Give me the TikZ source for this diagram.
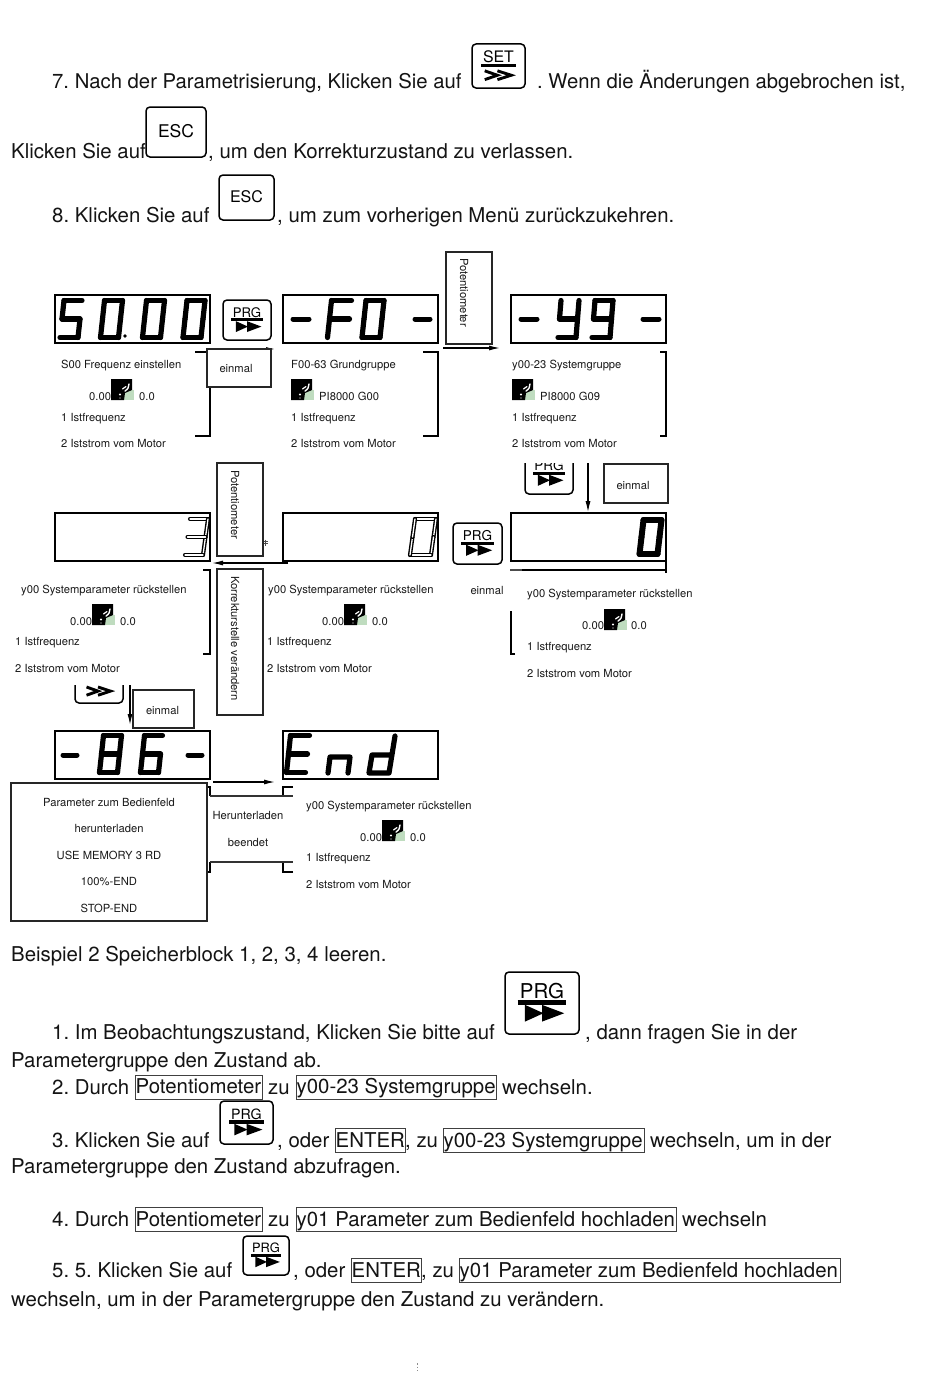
\documentclass[tikz,border=0pt]{standalone}
\usepackage{fontspec}
\setmainfont{TeX Gyre Heros}
\usetikzlibrary{arrows.meta}
\frenchspacing
\tikzset{
  bodytxt/.style={anchor=base west,inner sep=0pt,font=\fontsize{20.4}{24}\selectfont\frenchspacing,text=black!92},
  bodytight/.style={bodytxt,font=\fontsize{20.3}{24}\selectfont\frenchspacing},
  small/.style={anchor=base west,inner sep=0pt,font=\fontsize{11.2}{14}\selectfont\frenchspacing,text=black!90},
  boxed/.style={draw=black!75,line width=.8pt,inner sep=0pt,fill=none},
  panelbox/.style={draw=black!85,fill=white,line width=1.1pt,inner sep=0pt},
  dispbox/.style={draw=black,line width=1.6pt,inner sep=0pt},
  brk/.style={draw=black,line width=1.4pt},
  arr/.style={draw=black,line width=1.2pt,-{Latex[length=11pt,width=5pt]}},
  seg/.style={line width=5.2pt,line cap=round,line join=round,draw=black},
  fatseg/.style={line width=6pt,line cap=round,line join=round,draw=black},
  oseg/.style={line width=1.4pt,line cap=round,draw=black,double=white,double distance=1.3pt},
  btn/.style={draw=black,line width=1.5pt,rounded corners=4pt,fill=white,inner sep=0pt}
}
% seven segment digit: style, left, top, width, height, slant, list of segments
\newcommand\sevdig[7]{%
  \foreach \sg in {#7}{%
    \ifnum\sg=1 \draw[#1] ({#2+#6},#3) -- ({#2+#4+#6},#3);\fi
    \ifnum\sg=2 \draw[#1] ({#2+#4+#6},#3) -- ({#2+#4+#6/2},{#3+#5/2});\fi
    \ifnum\sg=3 \draw[#1] ({#2+#4+#6/2},{#3+#5/2}) -- ({#2+#4},{#3+#5});\fi
    \ifnum\sg=4 \draw[#1] (#2,{#3+#5}) -- ({#2+#4},{#3+#5});\fi
    \ifnum\sg=5 \draw[#1] (#2,{#3+#5}) -- ({#2+#6/2},{#3+#5/2});\fi
    \ifnum\sg=6 \draw[#1] ({#2+#6/2},{#3+#5/2}) -- ({#2+#6},#3);\fi
    \ifnum\sg=7 \draw[#1] ({#2+#6/2},{#3+#5/2}) -- ({#2+#4+#6/2},{#3+#5/2});\fi
  }%
}
\newcommand\dashseg[3]{\draw[line width=5pt,line cap=round] (#1,#3) -- (#2,#3);}
% icon with black square and green corner
\newcommand\mysticon[2]{%
  \fill[green!45!black!25!white] ({#1+13},{#2+11}) rectangle ({#1+23},{#2+21});
  \fill[black] (#1,#2) -- ({#1+21},#2) -- ({#1+21},{#2+11}) -- ({#1+14},{#2+14}) -- ({#1+13},{#2+21}) -- (#1,{#2+21}) -- cycle;
  \fill[white] ({#1+9},{#2+15.5}) circle (1.1pt);
  \fill[white] ({#1+9},{#2+19}) circle (.7pt);
  \draw[white,line width=1.2pt,line cap=round] ({#1+11.5},{#2+10}) -- ({#1+15},{#2+7.5});
  \draw[white,line width=1.4pt,line cap=round] ({#1+14},{#2+12}) .. controls ({#1+17},{#2+10}) and ({#1+18},{#2+8}) .. ({#1+18},{#2+5});
}
% panel rows
\newcommand\rows[4]{%
  \node[small] (#1a) at (#2,#3) {1 Istfrequenz};
  \node[small] (#1b) at (#2,#4) {2 Iststrom vom Motor};
}
% key with PRG and solid arrowheads
\newcommand\keyprg[6]{% name x1 y1 x2 y2 label
  \pgfmathsetmacro\kw{#4-#2}\pgfmathsetmacro\kh{#5-#3}
  \pgfmathsetmacro\kfs{0.33*\kh}
  \node[btn,minimum width=\kw pt,minimum height=\kh pt] (#1) at ({(#2+#4)/2},{(#3+#5)/2}) {};
  \node[inner sep=0pt,font=\fontsize{\kfs}{\kfs}\selectfont] (#1t) at ({(#2+#4)/2},{#3+.31*\kh}) {#6};
  \draw[line width={.075*\kh pt}] ({#2+.17*\kw},{#3+.49*\kh}) -- ({#2+.83*\kw},{#3+.49*\kh});
  \fill ({#2+.27*\kw},{#3+.53*\kh}) -- ({#2+.52*\kw},{#3+.665*\kh}) -- ({#2+.27*\kw},{#3+.8*\kh}) -- cycle;
  \fill ({#2+.5*\kw},{#3+.53*\kh}) -- ({#2+.8*\kw},{#3+.665*\kh}) -- ({#2+.5*\kw},{#3+.8*\kh}) -- cycle;
}
% chevrons
\newcommand\chevrons[4]{%
  \pgfmathsetmacro\kw{#3-#1}\pgfmathsetmacro\kh{#4-#2}
  \draw[line width=2.9pt,miter limit=4] ({#1+.24*\kw},{#2+.61*\kh}) -- ({#1+.48*\kw},{#2+.71*\kh}) -- ({#1+.24*\kw},{#2+.81*\kh});
  \draw[line width=2.9pt,miter limit=4] ({#1+.48*\kw},{#2+.61*\kh}) -- ({#1+.74*\kw},{#2+.71*\kh}) -- ({#1+.48*\kw},{#2+.81*\kh});
}
\newcommand\keyset[6]{%
  \pgfmathsetmacro\kw{#4-#2}\pgfmathsetmacro\kh{#5-#3}
  \pgfmathsetmacro\kfs{0.36*\kh}
  \node[btn,minimum width=\kw pt,minimum height=\kh pt] (#1) at ({(#2+#4)/2},{(#3+#5)/2}) {};
  \node[inner sep=0pt,font=\fontsize{\kfs}{\kfs}\selectfont] (#1t) at ({(#2+#4)/2},{#3+.3*\kh}) {#6};
  \draw[line width={.05*\kh pt}] ({#2+.17*\kw},{#3+.49*\kh}) -- ({#2+.83*\kw},{#3+.49*\kh});
  \chevrons{#2}{#3}{#4}{#5}
}
\newcommand\keyesc[6]{%
  \pgfmathsetmacro\kw{#4-#2}\pgfmathsetmacro\kh{#5-#3}
  \node[btn,minimum width=\kw pt,minimum height=\kh pt] (#1) at ({(#2+#4)/2},{(#3+#5)/2}) {};
  \node[inner sep=0pt,font=\fontsize{#6}{18}\selectfont] (#1t) at ({(#2+#4)/2},{#3+.48*\kh}) {ESC};
}
\newcommand\framed[6]{% name x1 y1 x2 y2 text
  \node[boxed,minimum width={(#4-#2)*1pt},minimum height={(#5-#3)*1pt}] (#1) at ({(#2+#4)/2},{(#3+#5)/2}) {};
  \node[bodytxt] (#1t) at ({#2+.5},{#5-5.5}) {#6};
}
\newcommand\dbox[5]{\node[dispbox,minimum width={(#4-#2)*1pt},minimum height={(#5-#3)*1pt}] (#1) at ({(#2+#4)/2},{(#3+#5)/2}) {};}
\newcommand\wbox[5]{\node[panelbox,minimum width={(#4-#2)*1pt},minimum height={(#5-#3)*1pt}] (#1) at ({(#2+#4)/2},{(#3+#5)/2}) {};}
\begin{document}
\begin{tikzpicture}[x=1pt,y=-1pt]
\useasboundingbox[fill=white] (0,0) rectangle (950,1381);
%% top text
\node[bodytight] (t1) at (52,88.5) {7. Nach der Parametrisierung, Klicken Sie auf};
\keyset{kset}{472}{44}{525}{88}{SET}
\node[bodytight] (t2) at (537,88.5) {. Wenn die Änderungen abgebrochen ist,};
\node[bodytxt] (t3) at (11,158) {Klicken Sie auf};
\keyesc{kesca}{146}{107}{206}{157}{17.5}
\node[bodytxt] (t4) at (208,158) {, um den Korrekturzustand zu verlassen.};
\node[bodytxt] (t5) at (52,222) {8. Klicken Sie auf};
\keyesc{kescb}{219}{175}{274}{220}{16}
\node[bodytxt] (t6) at (277,222) {, um zum vorherigen Menü zurückzukehren.};
%% row 1 displays
\dbox{d1}{55}{295}{210}{343}
\sevdig{seg}{60}{300.5}{18}{37}{4}{1,6,7,3,4}
\sevdig{seg}{100.5}{300.5}{18}{37}{4}{1,2,3,4,5,6}
\fill (125,336) circle (1.9pt);
\sevdig{seg}{142.5}{300.5}{18}{37}{4}{1,2,3,4,5,6}
\sevdig{seg}{183}{300.5}{18}{37}{4}{1,2,3,4,5,6}
\keyprg{kp1}{223}{300}{271}{340}{PRG}
\dbox{d2}{283}{295}{438}{343}
\dashseg{293}{309}{319}
\sevdig{seg}{327.5}{300.5}{20}{37}{4}{1,6,7,5}
\sevdig{seg}{362}{300.5}{18}{37}{4}{1,2,3,4,5,6}
\dashseg{415}{430}{319}
\dbox{d3}{511}{295}{666}{343}
\dashseg{521}{537}{319}
\sevdig{seg}{558}{300.5}{18}{37}{3}{2,3,4,6,7}
\sevdig{seg}{592}{300.5}{18}{37}{3}{1,2,3,4,6,7}
\dashseg{643}{659}{319}
%% panel 1
\draw[brk] (195,352) -- (210,352) -- (210,436) -- (195,436);
\coordinate (e1) at (275,349);
\draw[line width=1pt,-{Latex[length=9pt,width=4pt]}] (207,349) -- (e1);
\wbox{em1}{207}{349}{271}{387}
\node[small,anchor=center] (em1t) at (236,368) {einmal};
\node[small] (s1) at (61,368) {S00 Frequenz einstellen};
\node[small] (s2) at (89,400) {0.00};
\mysticon{111}{379}
\node[small] (s3) at (139,400) {0.0};
\rows{sr}{61}{421}{447}
\draw[brk] (423,352) -- (438,352) -- (438,436) -- (423,436);
\node[small] (f1) at (291,368) {F00-63 Grundgruppe};
\mysticon{291}{379}
\node[small] (f2) at (319,400) {PI8000 G00};
\rows{fr}{291}{421}{447}
\wbox{pot1}{446}{252}{492}{344}
\node[small,rotate=-90,anchor=center] (pot1t) at (464,292.5) {Potentiometer};
\coordinate (a1s) at (443,348);
\coordinate (a1e) at (500,348);
\draw[arr] (a1s) -- (a1e);
\draw[brk] (660,352) -- (666,352) -- (666,436) -- (660,436);
\node[small] (y1) at (512,368) {y00-23 Systemgruppe};
\mysticon{512}{379}
\node[small] (y2) at (540,400) {PI8000 G09};
\rows{yr}{512}{421}{447}
%% row 2
\begin{scope}
\clip (515,463) rectangle (585,500);
\keyprg{kp2}{525}{453}{573}{494}{PRG}
\end{scope}
\dbox{d6}{511}{513}{666}{561}
\sevdig{fatseg}{639.5}{520}{18}{34}{4}{1,2,3,4,5,6}
\coordinate (a2s) at (588,463);
\draw[arr] (a2s) -- (a2s |- d6.north);
\wbox{em2}{604}{464}{668}{503}
\node[small,anchor=center] (em2t) at (633,485) {einmal};
\draw[black!70,line width=1.3pt] (510,570) -- (522,570);
\draw[brk] (522,570) -- (666,570);
\draw[brk] (666,561) -- (666,573);
\keyprg{kp3}{453}{523}{502}{564}{PRG}
\dbox{d5}{283}{513}{438}{561}
\sevdig{oseg}{410}{519}{21}{36}{5}{1,2,3,4,5,6}
\dbox{d4}{55}{513}{210}{561}
\sevdig{oseg}{185}{519}{18}{36}{5}{1,2,3,4,7}
\wbox{pot2}{217}{463}{263}{556}
\node[small,rotate=-90,anchor=center] (pot2t) at (235,504.5) {Potentiometer};
\draw[black!70,line width=.6pt] (263.5,541) -- (267.5,541) (263.5,543.5) -- (267.5,543.5) (265.5,539.5) -- (265.5,546);
\coordinate (a3s) at (288,563);
\coordinate (a3e) at (212,563);
\draw[arr] (a3s) -- (a3e);
\draw[brk] (203,570) -- (210,570) -- (210,654) -- (203,654);
\wbox{kor}{217}{569}{263}{715}
\node[small,rotate=-90,anchor=center] (kort) at (235,638.5) {Korrekturstelle verändern};
\node[small] (m1) at (21,593) {y00 Systemparameter rückstellen};
\node[small] (m2) at (70,625) {0.00};
\mysticon{92}{604}
\node[small] (m3) at (120,625) {0.0};
\rows{mr}{15}{645}{672}
\node[small] (n1) at (268,593) {y00 Systemparameter rückstellen};
\node[small] (n2) at (322,625) {0.00};
\mysticon{344}{604}
\node[small] (n3) at (372,625) {0.0};
\rows{nr}{267}{645}{672}
\node[small,anchor=center] (em3t) at (487,590) {einmal};
\draw[brk] (515,654) -- (511,654) -- (511,611);
\node[small] (o1) at (527,597) {y00 Systemparameter rückstellen};
\node[small] (o2) at (582,629) {0.00};
\mysticon{604}{609}
\node[small] (o3) at (631,629) {0.0};
\rows{or}{527}{650}{677}
%% row 3
\begin{scope}
\clip (65,685) rectangle (128,710);
\node[btn,minimum width=48pt,minimum height=41pt] (kp4) at (99,682.5) {};
\chevrons{75}{662}{123}{703}
\end{scope}
\coordinate (a4s) at (130,685);
\coordinate (a4e) at (130,725);
\draw[arr] (a4s) -- (a4e);
\wbox{em4}{133}{690}{194}{728}
\node[small,anchor=center] (em4t) at (162.5,710) {einmal};
\dbox{d7}{55}{731}{210}{779}
\dashseg{63}{77}{755}
\sevdig{seg}{99.5}{735.5}{18}{37}{4}{1,2,3,4,5,6,7}
\sevdig{seg}{140.5}{735.5}{18}{37}{4}{1,3,4,5,6,7}
\dashseg{188}{202}{755}
\dbox{d8}{283}{731}{438}{779}
\sevdig{seg}{286.5}{735.5}{19}{37}{4}{1,4,5,6,7}
\draw[seg] (328,773) -- (330,757) -- (350,757) -- (348,773);
\draw[seg] (395,736) -- (389,773) -- (369,773) -- (372,755) -- (391,755);
\coordinate (a5s) at (213,782);
\coordinate (a5e) at (275,782);
\draw[arr] (a5s) -- (a5e);
\draw[brk] (207,787) -- (210,787) -- (210,796);
\draw[brk] (207,872) -- (210,872) -- (210,862);
\draw[brk] (293,787) -- (283,787) -- (283,796);
\draw[brk] (293,872) -- (283,872) -- (283,862);
\fill[white] (210,796) rectangle (293,862);
\draw[black!80,line width=1.1pt] (210,796) -- (293,796);
\draw[black!80,line width=1.1pt] (210,862) -- (293,862);
\node[small,anchor=center] (h1) at (248,815) {Herunterladen};
\node[small,anchor=center] (h2) at (248,842) {beendet};
\wbox{par}{11}{783}{207}{921}
\node[small,anchor=center] (p1) at (109,802) {Parameter zum Bedienfeld};
\node[small,anchor=center] (p2) at (109,828) {herunterladen};
\node[small,anchor=center] (p3) at (109,855) {USE MEMORY 3 RD};
\node[small,anchor=center] (p4) at (109,881.5) {100\%-END};
\node[small,anchor=center] (p5) at (109,908) {STOP-END};
\node[small] (q1) at (306,809) {y00 Systemparameter rückstellen};
\node[small] (q2) at (360,841) {0.00};
\mysticon{382}{820}
\node[small] (q3) at (410,841) {0.0};
\rows{qr}{306}{861}{888}
%% bottom text
\node[bodytxt] (b1) at (11,961) {Beispiel 2 Speicherblock 1, 2, 3, 4 leeren.};
\node[bodytxt] (b2) at (52,1039) {1. Im Beobachtungszustand, Klicken Sie bitte auf};
\keyprg{kb1}{505}{972}{579}{1034}{PRG}
\node[bodytxt] (b3) at (585,1039) {, dann fragen Sie in der};
\node[bodytxt] (b4) at (11,1067) {Parametergruppe den Zustand ab.};
\node[bodytxt] (b5) at (52,1094) {2. Durch};
\framed{f1a}{135}{1075}{262}{1099}{Potentiometer}
\node[bodytxt] (b6) at (268,1094) {zu};
\framed{f1b}{296}{1075}{496}{1099}{y00-23 Systemgruppe}
\node[bodytxt] (b7) at (502,1094) {wechseln.};
\node[bodytxt] (b8) at (52,1147) {3. Klicken Sie auf};
\keyprg{kb2}{220}{1101}{273}{1144}{PRG}
\node[bodytxt] (b9) at (277,1147) {, oder};
\framed{f2a}{335}{1128}{405}{1152.5}{ENTER}
\node[bodytxt] (b10) at (405,1147) {, zu};
\framed{f2b}{443}{1128}{644}{1152.5}{y00-23 Systemgruppe}
\node[bodytxt] (b11) at (650,1147) {wechseln, um in der};
\node[bodytxt] (b12) at (11,1173) {Parametergruppe den Zustand abzufragen.};
\node[bodytxt] (b13) at (52,1226) {4. Durch};
\framed{f3a}{135}{1207}{262}{1231.5}{Potentiometer}
\node[bodytxt] (b14) at (268,1226) {zu};
\framed{f3b}{296}{1207}{676}{1231.5}{y01 Parameter zum Bedienfeld hochladen}
\node[bodytxt] (b15) at (682,1226) {wechseln};
\node[bodytxt] (b16) at (52,1277) {5. 5. Klicken Sie auf};
\keyprg{kb3}{243}{1236}{289}{1275}{PRG}
\node[bodytxt] (b17) at (293,1277) {, oder};
\framed{f4a}{351}{1258}{421}{1282.5}{ENTER}
\node[bodytxt] (b18) at (421,1277) {, zu};
\framed{f4b}{459}{1258}{840}{1282.5}{y01 Parameter zum Bedienfeld hochladen}
\node[bodytxt] (b19) at (11,1306) {wechseln, um in der Parametergruppe den Zustand zu verändern.};
\draw[black!45,line width=.6pt,dash pattern=on 1.5pt off 2pt] (417,1363) -- (417,1371);
\end{tikzpicture}
\end{document}
